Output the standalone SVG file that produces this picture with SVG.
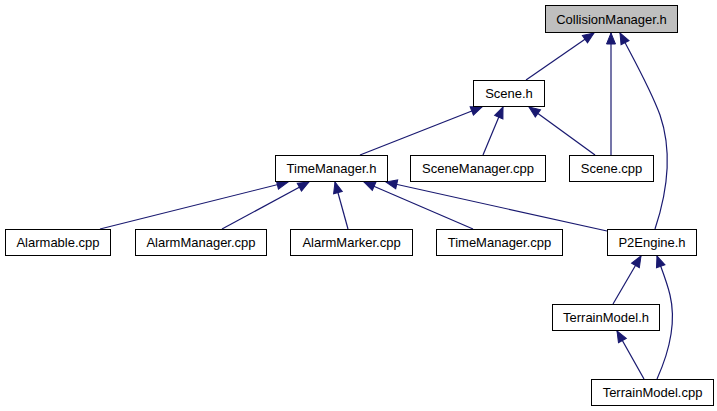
<svg xmlns="http://www.w3.org/2000/svg" width="717" height="411" viewBox="0 0 717 411">
<style>
.node rect{fill:#ffffff;stroke:#000000;stroke-width:1}
.node.root rect{fill:#bfbfbf}
.node text{font-family:"Liberation Sans",Arial,sans-serif;font-size:13px;fill:#000000;text-anchor:middle}
.edges path{fill:none;stroke:#191970;stroke-width:1.2;marker-end:url(#arr)}
</style>
<defs>
<marker id="arr" markerUnits="userSpaceOnUse" markerWidth="14" markerHeight="12" refX="12" refY="6" orient="auto">
<path d="M1,1.5 L12,6 L1,10.5 Z" fill="#191970" stroke="#191970" stroke-width="1"/>
</marker>
</defs>
<rect width="717" height="411" fill="#ffffff"/>
<g class="edges">
<path d="M526,80 L594,33"/>
<path d="M611,155 L611,33"/>
<path d="M655,229 C668,190 672,150 660,115 C650,88 635,62 620,33"/>
<path d="M360,155 L482,107"/>
<path d="M483,155 L503,107"/>
<path d="M595,155 L529,107"/>
<path d="M100,229 L288,182"/>
<path d="M222,229 L309,182"/>
<path d="M348,229 L335,182"/>
<path d="M473,229 L364,182"/>
<path d="M607,231 L386,182"/>
<path d="M613,304 L641,256"/>
<path d="M657,379 C670,350 676,320 670,295 C667,282 662,270 657,256"/>
<path d="M644,379 L617,331"/>
</g>
<g id="CollisionManager_h" class="node root"><rect x="545.5" y="5.5" width="132" height="27"/><text x="611.5" y="23.5">CollisionManager.h</text></g>
<g id="Scene_h" class="node"><rect x="473.5" y="80.5" width="71" height="26"/><text x="509" y="98">Scene.h</text></g>
<g id="TimeManager_h" class="node"><rect x="275.5" y="155.5" width="112" height="26"/><text x="331.5" y="173">TimeManager.h</text></g>
<g id="SceneManager_cpp" class="node"><rect x="410.5" y="155.5" width="135" height="26"/><text x="478" y="173">SceneManager.cpp</text></g>
<g id="Scene_cpp" class="node"><rect x="569.5" y="155.5" width="84" height="26"/><text x="611.5" y="173">Scene.cpp</text></g>
<g id="Alarmable_cpp" class="node"><rect x="5.5" y="229.5" width="105" height="26"/><text x="58" y="247">Alarmable.cpp</text></g>
<g id="AlarmManager_cpp" class="node"><rect x="135.5" y="229.5" width="131" height="26"/><text x="201" y="247">AlarmManager.cpp</text></g>
<g id="AlarmMarker_cpp" class="node"><rect x="290.5" y="229.5" width="122" height="26"/><text x="351.5" y="247">AlarmMarker.cpp</text></g>
<g id="TimeManager_cpp" class="node"><rect x="436.5" y="229.5" width="126" height="26"/><text x="499.5" y="247">TimeManager.cpp</text></g>
<g id="P2Engine_h" class="node"><rect x="607.5" y="229.5" width="89" height="26"/><text x="652" y="247">P2Engine.h</text></g>
<g id="TerrainModel_h" class="node"><rect x="552.5" y="304.5" width="107" height="26"/><text x="606" y="322">TerrainModel.h</text></g>
<g id="TerrainModel_cpp" class="node"><rect x="591.5" y="379.5" width="122" height="26"/><text x="652.5" y="397">TerrainModel.cpp</text></g>
</svg>
